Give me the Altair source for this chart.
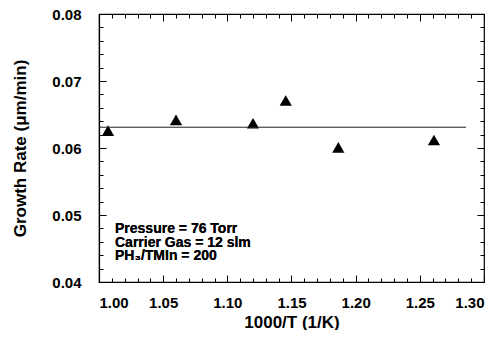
import altair as alt
import pandas as pd

inv_t = [1.007, 1.060, 1.120, 1.1455, 1.1865, 1.261]
growth = [0.0626, 0.0642, 0.0637, 0.0671, 0.0601, 0.0612]
fit_x = [1.000, 1.286]
fit_y = [0.0631, 0.0631]
notes = "Pressure = 76 Torr\nCarrier Gas = 12 slm\nPH\u2083/TMIn  = 200"

x_major = [1.00, 1.05, 1.10, 1.15, 1.20, 1.25, 1.30]
y_major = [0.04, 0.05, 0.06, 0.07, 0.08]
x_minor = [1.01, 1.02, 1.03, 1.04, 1.06, 1.07, 1.08, 1.09, 1.11, 1.12, 1.13, 1.14,
           1.16, 1.17, 1.18, 1.19, 1.21, 1.22, 1.23, 1.24, 1.26, 1.27, 1.28, 1.29]
y_minor = [0.042, 0.044, 0.046, 0.048, 0.052, 0.054, 0.056, 0.058, 0.062, 0.064,
           0.066, 0.068, 0.072, 0.074, 0.076, 0.078]

pts = pd.DataFrame({"x": inv_t, "y": growth})
fit = pd.DataFrame({"x": fit_x, "y": fit_y})

W, H = 385, 268
FONT = "Liberation Sans"

xs = alt.Scale(domain=[1.0, 1.3], nice=False, zero=False)
ys = alt.Scale(domain=[0.04, 0.08], nice=False, zero=False)


def tick_axis(orient, offset, values, ts):
    return alt.Axis(orient=orient, offset=offset, values=values, labels=False, title=None,
                    domain=False, grid=False, tickSize=ts, tickColor="black")


def tick_layer(xo, xoff, yo, yoff, xv, yv, ts):
    return alt.Chart(fit).mark_line(opacity=0).encode(
        x=alt.X("x:Q", scale=xs, axis=tick_axis(xo, xoff, xv, ts)),
        y=alt.Y("y:Q", scale=ys, axis=tick_axis(yo, yoff, yv, ts)),
    )


base_pts = alt.Chart(pts).mark_point(shape="triangle-up", filled=True, color="black",
                                     size=150, opacity=1).encode(
    x=alt.X("x:Q", scale=xs, axis=alt.Axis(orient="bottom", values=x_major, format=".2f",
            tickSize=0, grid=False, domainColor="black", domainWidth=1.2,
            labelFont=FONT, labelFontSize=15, labelFontWeight="bold", labelColor="black",
            labelPadding=13, title="1000/T (1/K)", titleFont=FONT, titleFontSize=17,
            titleFontWeight="bold", titleColor="black", titlePadding=4)),
    y=alt.Y("y:Q", scale=ys, axis=alt.Axis(orient="left", values=y_major, format=".2f",
            tickSize=0, grid=False, domainColor="black", domainWidth=1.2,
            labelFont=FONT, labelFontSize=15, labelFontWeight="bold", labelColor="black",
            labelPadding=18, title="Growth  Rate  (\u03bcm/min)", titleFont=FONT,
            titleFontSize=17, titleFontWeight="bold", titleColor="black", titlePadding=22)),
)

line = alt.Chart(fit).mark_line(color="#222222", strokeWidth=1).encode(
    x=alt.X("x:Q", scale=xs, axis=tick_axis("top", -H, x_minor, 4)),
    y=alt.Y("y:Q", scale=ys, axis=tick_axis("right", -W, y_minor, 4)),
)

t2 = tick_layer("bottom", -H, "left", -W, x_minor, y_minor, 4)
t3 = tick_layer("top", -H, "right", -W, x_major, y_major, 7)
t4 = tick_layer("bottom", -H, "left", -W, x_major, y_major, 7)

text = alt.Chart(fit).mark_text(align="left", baseline="middle", font=FONT, fontSize=14,
                                fontWeight="bold", color="black", lineBreak="\n",
                                lineHeight=13.7, text=notes).encode(
    x=alt.value(16),
    y=alt.value(215),
)

chart = alt.layer(base_pts, line, t2, t3, t4, text).resolve_axis(
    x="independent", y="independent"
).properties(
    width=W, height=H,
    autosize=alt.AutoSizeParams(type="none"),
    padding={"left": 91, "top": 6, "right": 9, "bottom": 48},
).configure_view(stroke="black", strokeWidth=1.2)

chart.save("out.html", embed_options={"renderer": "svg", "actions": False})
